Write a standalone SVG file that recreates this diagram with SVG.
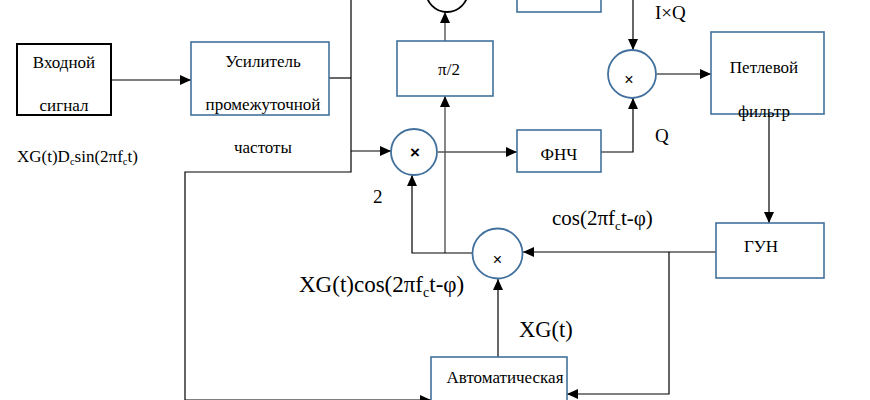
<svg xmlns="http://www.w3.org/2000/svg" width="870" height="400" viewBox="0 0 870 400" font-family="'Liberation Serif', 'Times New Roman', serif">
<defs>
<marker id="ah" markerUnits="userSpaceOnUse" markerWidth="12" markerHeight="10" refX="11" refY="5" orient="auto">
<path d="M0,0 L11,5 L0,10 Z" fill="#000"/>
</marker>
<style>
.box{fill:#fff;stroke:#41719C;stroke-width:1.6}
.blk{fill:#fff;stroke:#000;stroke-width:2}
.circ{fill:#fff;stroke:#41719C;stroke-width:1.8}
.t{fill:#000}
.m{fill:#000;text-anchor:middle}
.c{fill:none;stroke:#000;stroke-width:1.2}
.g{fill:none;stroke:#555;stroke-width:1.4}
.a{marker-end:url(#ah)}
</style>
</defs>
<rect width="870" height="400" fill="#fff"/>

<g id="connectors">
<path class="c a" d="M111,80 H191"/>
<path class="c" d="M329,78 H351"/>
<path class="c" d="M351,0 V172 H185 V400"/>
<path class="c a" d="M351,151 H391"/>
<path class="c a" d="M185,400 H431"/>
<path class="c a" d="M438,152 H517"/>
<path class="c a" d="M601,152 H633 V98"/>
<path class="c a" d="M633,0 V50"/>
<path class="c a" d="M657,74 H711"/>
<path class="g a" d="M445,41 V12"/>
<path class="g a" d="M445,253 V96"/>
<path class="c a" d="M472,253 H412 V175"/>
<path class="c a" d="M769,114 V223"/>
<path class="c a" d="M716,252 H523"/>
<path class="c a" d="M669,252 V394 H567"/>
<path class="c a" d="M498,357 V279"/>
</g>

<g id="input" font-family="'Liberation Serif', serif">
<rect class="blk" x="17" y="44" width="94" height="71"/>
<text class="t" x="64" y="68" font-size="17" text-anchor="middle">Входной</text>
<text class="t" x="64" y="111" font-size="17" text-anchor="middle">сигнал</text>
</g>

<g id="ifamp" font-family="'Liberation Serif', serif">
<rect class="box" x="191" y="42" width="138" height="73"/>
<text class="t" x="263" y="67" font-size="17" text-anchor="middle">Усилитель</text>
<text class="t" x="263" y="110" font-size="17" text-anchor="middle">промежуточной</text>
<text class="t" x="263" y="153" font-size="17" text-anchor="middle">частоты</text>
</g>

<g id="input-label" font-family="'Liberation Serif', serif">
<text class="t" x="17" y="162" font-size="17">XG(t)D<tspan font-size="10.5" dy="3">c</tspan><tspan dy="-3">sin(2πf</tspan><tspan font-size="10.5" dy="3">c</tspan><tspan dy="-3">t)</tspan></text>
</g>

<g id="top-circle">
<circle cx="447" cy="-9" r="21" fill="#fff" stroke="#000" stroke-width="1.8"/>
</g>

<g id="top-box">
<rect class="box" x="517" y="-20" width="84" height="32"/>
</g>

<g id="phase" font-family="'Liberation Serif', serif">
<rect class="box" x="397" y="41" width="96" height="55"/>
<text class="t" x="449" y="75" font-size="17" text-anchor="middle">π/2</text>
</g>

<g id="mult1" font-family="'Liberation Sans', Arial, sans-serif">
<circle class="circ" cx="414" cy="152" r="23"/>
<text class="m" x="415" y="158" font-size="17" font-weight="bold">×</text>
</g>

<g id="lpf" font-family="'Liberation Serif', serif">
<rect class="box" x="517" y="130" width="84" height="42"/>
<text class="t" x="559" y="160" font-size="17" text-anchor="middle">ФНЧ</text>
</g>

<g id="mult2" font-family="'Liberation Sans', Arial, sans-serif">
<circle class="circ" cx="632" cy="74" r="24"/>
<text class="m" x="629" y="85" font-size="16">×</text>
</g>

<g id="loopfilter" font-family="'Liberation Serif', serif">
<rect class="box" x="711" y="32" width="113" height="82"/>
<text class="t" x="764" y="73" font-size="17" text-anchor="middle">Петлевой</text>
<text class="t" x="764" y="117" font-size="17" text-anchor="middle">фильтр</text>
</g>

<g id="vco" font-family="'Liberation Serif', serif">
<rect class="box" x="716" y="223" width="108" height="55"/>
<text class="t" x="761" y="252" font-size="17" text-anchor="middle">ГУН</text>
</g>

<g id="mult3" font-family="'Liberation Sans', Arial, sans-serif">
<circle class="circ" cx="497.5" cy="253.5" r="25"/>
<text class="m" x="497.5" y="265" font-size="16">×</text>
</g>

<g id="agc" font-family="'Liberation Serif', serif">
<rect class="box" x="431" y="357" width="136" height="60"/>
<text class="t" x="505" y="383" font-size="17" text-anchor="middle">Автоматическая</text>
</g>

<g id="labels" font-family="'Liberation Serif', serif">
<text class="t" x="655" y="19" font-size="19">I×Q</text>
<text class="t" x="655" y="142" font-size="19">Q</text>
<text class="t" x="373" y="203" font-size="19">2</text>
<text class="t" x="552" y="225" font-size="21">cos(2πf<tspan font-size="13" dy="5">c</tspan><tspan dy="-5">t-φ)</tspan></text>
<text class="t" x="299" y="292" font-size="23">XG(t)cos(2πf<tspan font-size="14" dy="5">c</tspan><tspan dy="-5">t-φ)</tspan></text>
<text class="t" x="519" y="337" font-size="22.5">XG(t)</text>
</g>
</svg>
